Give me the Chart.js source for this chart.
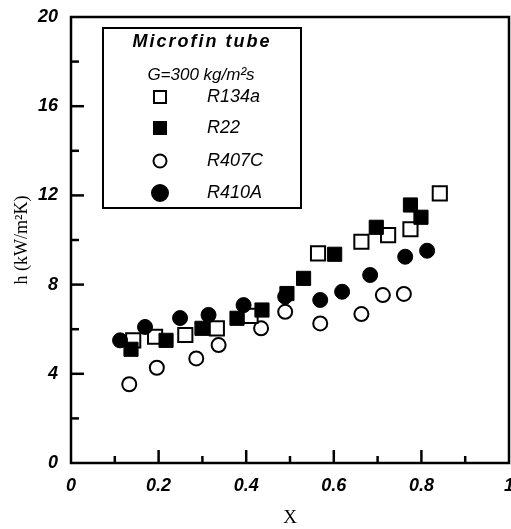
<!DOCTYPE html>
<html>
<head>
<meta charset="utf-8">
<title>Microfin tube h vs X</title>
<script src="https://cdn.jsdelivr.net/npm/chart.js@4"></script>
<style>
  html, body { margin: 0; padding: 0; background: #fff; overflow: hidden; }
  canvas { display: block; }
</style>
</head>
<body>
<canvas id="hChart" width="511" height="529"></canvas>
<script>
// refrigerants, as in the legend
const categories = ['R134a', 'R22', 'R407C', 'R410A'];

// vapor quality X and heat transfer coefficient h (kW/m2K)
const xR134a = [0.142, 0.192, 0.261, 0.333, 0.410, 0.564, 0.663, 0.724, 0.775, 0.842];
const hR134a = [5.5, 5.66, 5.74, 6.04, 6.6, 9.4, 9.92, 10.22, 10.48, 12.09];

const xR22 = [0.137, 0.217, 0.299, 0.379, 0.436, 0.493, 0.531, 0.602, 0.697, 0.775, 0.799];
const hR22 = [5.1, 5.5, 6.04, 6.49, 6.86, 7.6, 8.28, 9.36, 10.57, 11.57, 11.02];

const xR407C = [0.133, 0.196, 0.286, 0.337, 0.434, 0.489, 0.569, 0.663, 0.712, 0.760];
const hR407C = [3.53, 4.27, 4.69, 5.29, 6.04, 6.78, 6.26, 6.68, 7.53, 7.58];

const xR410A = [0.112, 0.169, 0.249, 0.314, 0.394, 0.489, 0.569, 0.619, 0.683, 0.763, 0.813];
const hR410A = [5.5, 6.1, 6.5, 6.64, 7.08, 7.46, 7.31, 7.68, 8.43, 9.25, 9.52];

const xTickLabels = ['0', '0.2', '0.4', '0.6', '0.8', '1'];
const yTickLabels = ['0', '4', '8', '12', '16', '20'];

function pairs(xs, ys) {
  return xs.map((x, i) => ({ x: x, y: ys[i] }));
}

const tickFont = { family: 'Liberation Sans', size: 18, style: 'italic', weight: 'bold' };

// box frame plus inward tick marks
const framePlugin = {
  id: 'frame',
  beforeDatasetsDraw(chart) {
    const { ctx, chartArea: a, scales } = chart;
    ctx.save();
    ctx.strokeStyle = '#000';
    ctx.lineWidth = 2.5;
    for (let i = 1; i < 10; i++) {
      const px = scales.x.getPixelForValue(i / 10);
      const len = i % 2 === 0 ? 13 : 7;
      ctx.beginPath();
      ctx.moveTo(px, a.bottom);
      ctx.lineTo(px, a.bottom - len);
      ctx.stroke();
    }
    for (let v = 2; v < 20; v += 2) {
      const py = scales.y.getPixelForValue(v);
      const len = v % 4 === 0 ? 13 : 8;
      ctx.beginPath();
      ctx.moveTo(a.left, py);
      ctx.lineTo(a.left + len, py);
      ctx.stroke();
    }
    ctx.strokeRect(a.left, a.top, a.right - a.left, a.bottom - a.top);
    ctx.restore();
  }
};

// boxed legend in the upper left of the plot
const legendBoxPlugin = {
  id: 'legendBox',
  afterDraw(chart) {
    const { ctx, chartArea: a } = chart;
    const left = a.left + 32, top = a.top + 11, w = 198, h = 180;
    ctx.save();
    ctx.fillStyle = '#fff';
    ctx.fillRect(left, top, w, h);
    ctx.strokeStyle = '#000';
    ctx.lineWidth = 2;
    ctx.strokeRect(left, top, w, h);
    ctx.fillStyle = '#000';
    ctx.textBaseline = 'middle';
    ctx.textAlign = 'center';
    ctx.letterSpacing = '2px';
    ctx.font = 'italic bold 18px "Liberation Sans"';
    ctx.fillText('Microfin tube', left + 99, top + 14);
    ctx.letterSpacing = '0px';
    ctx.font = 'italic 17px "Liberation Sans"';
    ctx.fillText('G=300 kg/m\u00B2s', left + 98, top + 47);
    const rows = [69, 100, 133, 165];
    chart.data.datasets.forEach((ds, i) => {
      const cx = left + 57, cy = top + rows[i];
      ctx.beginPath();
      if (ds.pointStyle === 'rect') {
        ctx.rect(cx - 6, cy - 6, 12, 12);
      } else {
        ctx.arc(cx, cy, ds.backgroundColor === '#000' ? 8 : 6.5, 0, Math.PI * 2);
      }
      ctx.fillStyle = ds.backgroundColor;
      ctx.fill();
      ctx.lineWidth = 2;
      ctx.strokeStyle = '#000';
      ctx.stroke();
      ctx.fillStyle = '#000';
      ctx.textAlign = 'left';
      ctx.font = 'italic 18px "Liberation Sans"';
      ctx.fillText(ds.label, left + 104, cy);
    });
    ctx.restore();
  }
};

new Chart(document.getElementById('hChart'), {
  type: 'scatter',
  data: {
    datasets: [
      {
        label: categories[0],
        data: pairs(xR134a, hR134a),
        pointStyle: 'rect', pointRadius: 10,
        backgroundColor: '#fff', borderColor: '#000', borderWidth: 2,
        order: 2
      },
      {
        label: categories[1],
        data: pairs(xR22, hR22),
        pointStyle: 'rect', pointRadius: 10,
        backgroundColor: '#000', borderColor: '#000', borderWidth: 1,
        order: 1
      },
      {
        label: categories[2],
        data: pairs(xR407C, hR407C),
        pointStyle: 'circle', pointRadius: 7,
        backgroundColor: '#fff', borderColor: '#000', borderWidth: 2,
        order: 2
      },
      {
        label: categories[3],
        data: pairs(xR410A, hR410A),
        pointStyle: 'circle', pointRadius: 7.5,
        backgroundColor: '#000', borderColor: '#000', borderWidth: 1,
        order: 1
      }
    ]
  },
  options: {
    responsive: false,
    animation: false,
    layout: { autoPadding: false, padding: { top: 17, right: 2, bottom: 0, left: 0 } },
    plugins: {
      legend: { display: false },
      tooltip: { enabled: false }
    },
    scales: {
      x: {
        type: 'linear',
        min: 0, max: 1,
        grid: { display: false, drawTicks: false },
        border: { display: false },
        ticks: {
          stepSize: 0.2, padding: 12, color: '#000', font: tickFont,
          callback: (v) => xTickLabels[Math.round(v / 0.2)]
        },
        title: {
          display: true, text: 'X', color: '#000',
          font: { family: 'Liberation Serif', size: 19 },
          padding: { top: 0, bottom: 0 }
        },
        afterFit(s) { s.height = 66; s.paddingLeft = 0; s.paddingRight = 0; }
      },
      y: {
        min: 0, max: 20,
        grid: { display: false, drawTicks: false },
        border: { display: false },
        ticks: {
          stepSize: 4, padding: 13, color: '#000', font: tickFont,
          callback: (v) => yTickLabels[Math.round(v / 4)]
        },
        title: {
          display: true, text: 'h (kW/m\u00B2K)', color: '#000',
          font: { family: 'Liberation Serif', size: 18 },
          padding: { top: 11, bottom: 0 }
        },
        afterFit(s) { s.width = 71; s.paddingTop = 0; s.paddingBottom = 0; }
      }
    }
  },
  plugins: [framePlugin, legendBoxPlugin]
});
</script>
</body>
</html>
